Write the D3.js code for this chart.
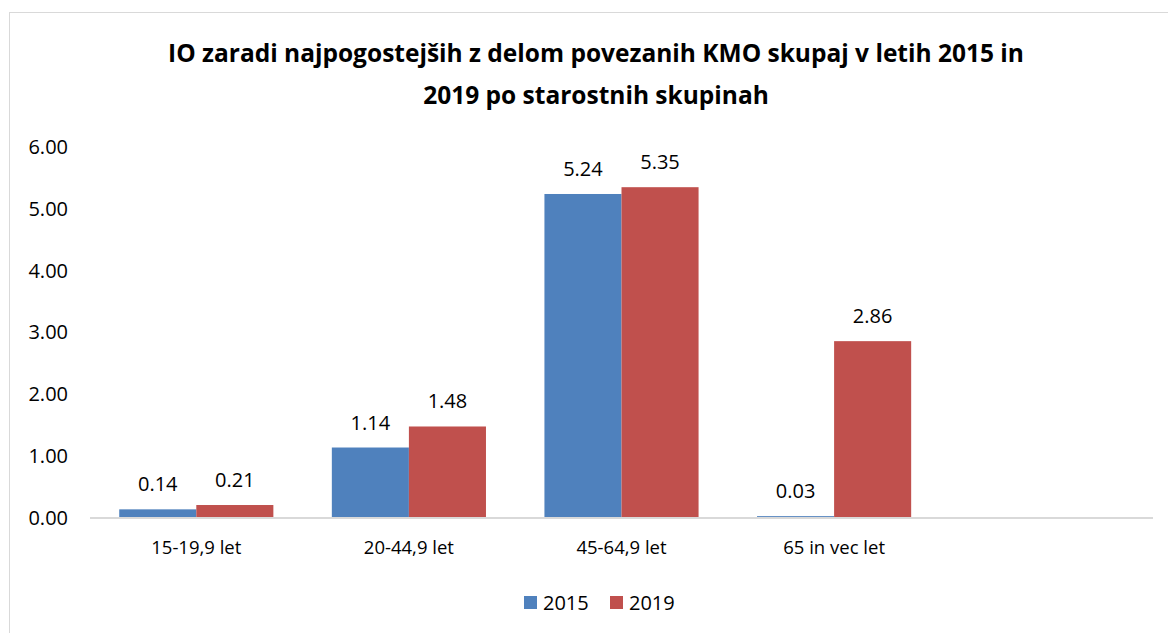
<!DOCTYPE html>
<html>
<head>
<meta charset="utf-8">
<script src="https://cdn.jsdelivr.net/npm/d3@7"></script>
<style>
  body { margin: 0; background: #fff; }
  text { font-family: "Open Sans", sans-serif; fill: #000; }
</style>
</head>
<body>
<svg id="chart" width="1168" height="633"></svg>
<script>
const categories = ["15-19,9 let", "20-44,9 let", "45-64,9 let", "65 in vec let", ""];
const seriesNames = ["2015", "2019"];
const values2015 = [0.14, 1.14, 5.24, 0.03, null];
const values2019 = [0.21, 1.48, 5.35, 2.86, null];
const yTicks = [0, 1, 2, 3, 4, 5, 6];
const colors = ["#4f81bd", "#c0504d"];
const titleLines = [
  "IO zaradi najpogostejših z delom povezanih KMO skupaj v letih 2015 in",
  "2019 po starostnih skupinah"
];

const svg = d3.select("#chart");

// outer frame
svg.append("rect")
  .attr("x", 9.5).attr("y", 12.5)
  .attr("width", 1170).attr("height", 640)
  .attr("fill", "none")
  .attr("stroke", "#d9d9d9");

svg.selectAll(".title")
  .data(titleLines)
  .enter().append("text")
  .attr("class", "title")
  .attr("x", 596)
  .attr("y", (d, i) => 62 + i * 42)
  .attr("text-anchor", "middle")
  .style("font-size", "24.5px")
  .style("font-weight", "bold")
  .text(d => d);

const x = d3.scaleBand()
  .domain(categories.map((d, i) => i))
  .range([90, 1153])
  .paddingInner(0.275)
  .paddingOuter(0.1375);

const xs = d3.scaleBand()
  .domain([0, 1])
  .range([0, x.bandwidth()]);

const y = d3.scaleLinear()
  .domain([0, 6])
  .range([518, 147]);

// y axis labels
const yAxis = d3.axisLeft(y)
  .tickValues(yTicks)
  .tickSize(0)
  .tickPadding(0)
  .tickFormat(d3.format(".2f"));

const yg = svg.append("g")
  .attr("transform", "translate(68,0)")
  .call(yAxis);
yg.select(".domain").remove();
yg.selectAll("text").style("font-size", "20px");

// bars
const rows = categories.map((c, i) => ({i, vals: [values2015[i], values2019[i]]}));
const groups = svg.selectAll(".grp")
  .data(rows)
  .enter().append("g")
  .attr("class", "grp")
  .attr("transform", d => `translate(${x(d.i)},0)`);

groups.selectAll("rect")
  .data(d => d.vals.map((v, k) => ({v, k})).filter(e => e.v != null))
  .enter().append("rect")
  .attr("x", d => xs(d.k))
  .attr("y", d => y(d.v))
  .attr("width", xs.bandwidth())
  .attr("height", d => y(0) - y(d.v))
  .attr("fill", d => colors[d.k]);

groups.selectAll(".lbl")
  .data(d => d.vals.map((v, k) => ({v, k})).filter(e => e.v != null))
  .enter().append("text")
  .attr("class", "lbl")
  .attr("x", d => xs(d.k) + xs.bandwidth() / 2)
  .attr("y", d => y(d.v) - 18)
  .attr("text-anchor", "middle")
  .style("font-size", "20px")
  .text(d => d.v.toFixed(2));

// x axis
const xAxis = d3.axisBottom(x)
  .tickSize(0)
  .tickPadding(23)
  .tickFormat(i => categories[i]);

const xg = svg.append("g")
  .attr("transform", "translate(0,518)")
  .call(xAxis);
xg.select(".domain").attr("stroke", "#d9d9d9").attr("stroke-width", 2)
  .attr("d", "M90,0H1153");
xg.selectAll("text").style("font-size", "18.5px");

// legend
const legend = svg.append("g").attr("transform", "translate(524,596)");
const lg = legend.selectAll("g")
  .data(seriesNames)
  .enter().append("g")
  .attr("transform", (d, i) => `translate(${i * 86},0)`);
lg.append("rect")
  .attr("width", 13).attr("height", 13)
  .attr("fill", (d, i) => colors[i]);
lg.append("text")
  .attr("x", 19).attr("y", 14)
  .style("font-size", "20px")
  .text(d => d);
</script>
</body>
</html>
